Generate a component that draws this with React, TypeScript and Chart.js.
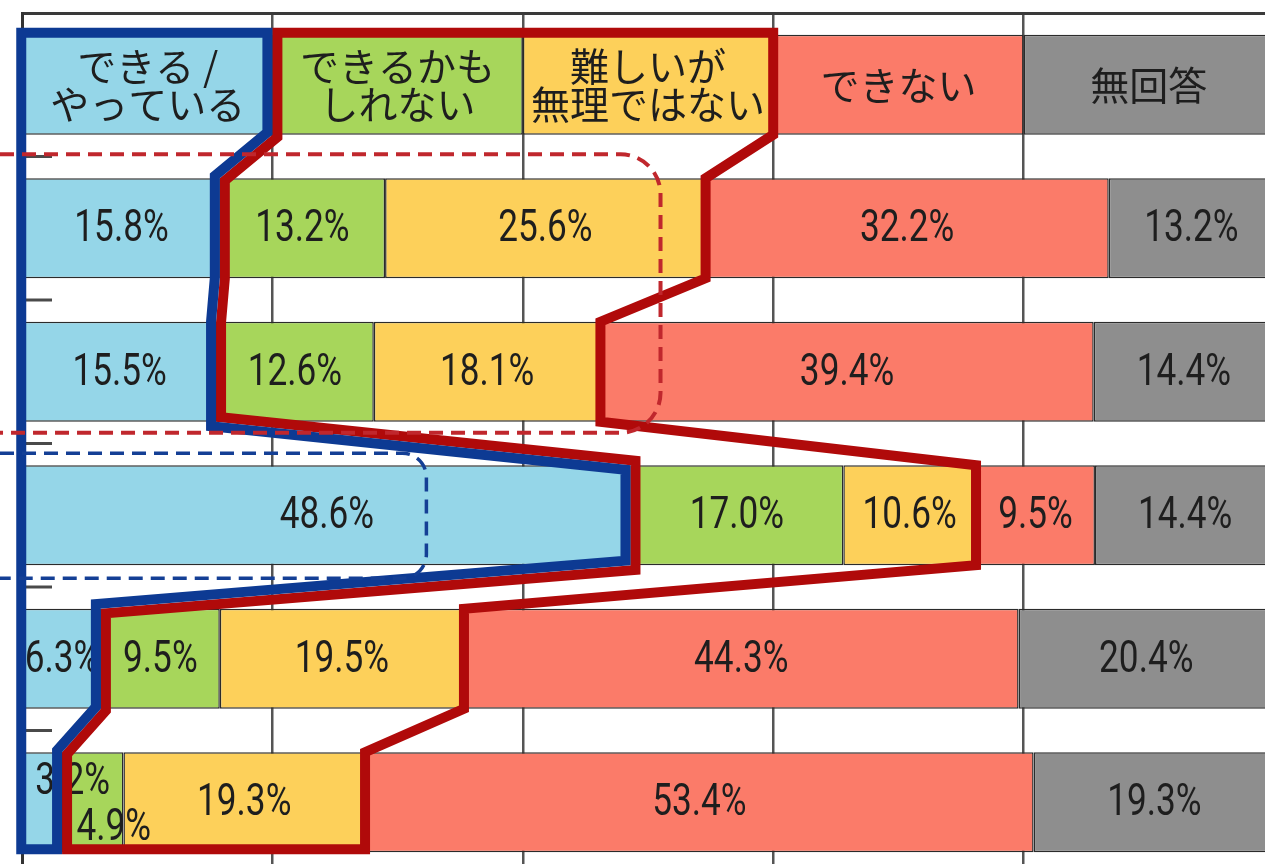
import React, { useEffect, useRef } from 'react';
import { Chart, registerables } from 'chart.js';

Chart.register(...registerables);

// ---------------- data ----------------
const rowLabels = ['凡例', '1', '2', '3', '4', '5'];
const seriesNames = ['できる/やっている', 'できるかもしれない', '難しいが無理ではない', 'できない', '無回答'];
const headerLines = [
  ['できる /', 'やっている'],
  ['できるかも', 'しれない'],
  ['難しいが', '無理ではない'],
  ['できない'],
  ['無回答'],
];
const headerShare = [20, 20, 20, 20, 20];
const canDo = [15.8, 15.5, 48.6, 6.3, 3.2];
const mightCan = [13.2, 12.6, 17.0, 9.5, 4.9];
const hardNotImpossible = [25.6, 18.1, 10.6, 19.5, 19.3];
const cannot = [32.2, 39.4, 9.5, 44.3, 53.4];
const noAnswer = [13.2, 14.4, 14.4, 20.4, 19.3];
const seriesValues = [canDo, mightCan, hardNotImpossible, cannot, noAnswer];
const xTickValues = [0, 20, 40, 60, 80, 100];

// ---------------- style ----------------
const W = 1290;
const H = 890;
const fillColors = ['#95d6e8', '#a7d65b', '#fdd05a', '#fb7b69', '#8e8e8e'];
const labelNudge: Record<string, [number, number]> = { '0-5': [30, -21], '1-5': [21, 25] };
const redBracket = { rows: [1, 2], xValue: 51, padTop: 24, padBot: 11, radius: 40, color: '#c0272d' };
const blueBracket = { rows: [3, 3], xValue: 32.3, padTop: 12, padBot: 13, radius: 24, color: '#143f95' };

type Pt = [number, number];

function insetPolygon(pts: Pt[], offs: number[]): Pt[] {
  const n = pts.length;
  let a = 0;
  for (let k = 0; k < n; k++) {
    const p = pts[k];
    const q = pts[(k + 1) % n];
    a += p[0] * q[1] - q[0] * p[1];
  }
  const sg = a > 0 ? 1 : -1;
  const lines = pts.map((p, k) => {
    const q = pts[(k + 1) % n];
    const dx = q[0] - p[0];
    const dy = q[1] - p[1];
    const len = Math.hypot(dx, dy) || 1;
    const ux = dx / len;
    const uy = dy / len;
    const nx = -uy * sg;
    const ny = ux * sg;
    return { ax: p[0] + nx * offs[k], ay: p[1] + ny * offs[k], ux, uy };
  });
  const out: Pt[] = [];
  for (let k = 0; k < n; k++) {
    const L1 = lines[(k - 1 + n) % n];
    const L2 = lines[k];
    const cr = L1.ux * L2.uy - L1.uy * L2.ux;
    if (Math.abs(cr) < 1e-6) {
      out.push([L2.ax, L2.ay]);
    } else {
      const t = ((L2.ax - L1.ax) * L2.uy - (L2.ay - L1.ay) * L2.ux) / cr;
      out.push([L1.ax + L1.ux * t, L1.ay + L1.uy * t]);
    }
  }
  return out;
}

function strokePoly(ctx: CanvasRenderingContext2D, pts: Pt[], color: string, width: number) {
  ctx.save();
  ctx.strokeStyle = color;
  ctx.lineWidth = width;
  ctx.lineJoin = 'miter';
  ctx.miterLimit = 10;
  ctx.beginPath();
  pts.forEach((p, i) => (i === 0 ? ctx.moveTo(p[0], p[1]) : ctx.lineTo(p[0], p[1])));
  ctx.closePath();
  ctx.stroke();
  ctx.restore();
}

function bracket(ctx: CanvasRenderingContext2D, top: number, bot: number, xr: number, r: number, color: string, width: number) {
  ctx.save();
  ctx.strokeStyle = color;
  ctx.lineWidth = width;
  ctx.setLineDash([14, 8]);
  ctx.beginPath();
  ctx.moveTo(0, top);
  ctx.lineTo(xr - r, top);
  ctx.arcTo(xr, top, xr, top + r, r);
  ctx.lineTo(xr, bot - r);
  ctx.arcTo(xr, bot, xr - r, bot, r);
  ctx.lineTo(0, bot);
  ctx.stroke();
  ctx.restore();
}

const overlayPlugin = {
  id: 'overlay',
  afterDatasetsDraw(chart: any) {
    const ctx: CanvasRenderingContext2D = chart.ctx;
    const area = chart.chartArea;
    const xs = chart.scales.x;
    const ys = chart.scales.y;
    const metas = chart.data.datasets.map((_: any, i: number) => chart.getDatasetMeta(i));
    const n = chart.data.labels.length;
    const rows: any[] = [];
    for (let i = 0; i < n; i++) {
      const p0 = metas[0].data[i].getProps(['y', 'height'], true);
      rows.push({
        cy: p0.y,
        top: p0.y - p0.height / 2,
        bot: p0.y + p0.height / 2,
        seg: metas.map((m: any) => {
          const p = m.data[i].getProps(['x', 'base'], true);
          return { l: Math.min(p.x, p.base), r: Math.max(p.x, p.base) };
        }),
      });
    }

    // short inner ticks at category boundaries
    ctx.save();
    ctx.strokeStyle = '#4a4a4a';
    ctx.lineWidth = 3;
    for (let i = 1; i < n; i++) {
      const yb = (ys.getPixelForValue(i - 1) + ys.getPixelForValue(i)) / 2;
      ctx.beginPath();
      ctx.moveTo(area.left, yb);
      ctx.lineTo(area.left + 30, yb);
      ctx.stroke();
    }
    ctx.restore();

    // labels
    ctx.save();
    ctx.fillStyle = '#1e1e1e';
    ctx.textAlign = 'center';
    ctx.textBaseline = 'middle';
    for (let i = 0; i < n; i++) {
      for (let d = 0; d < metas.length; d++) {
        const s = rows[i].seg[d];
        const cx = (s.l + s.r) / 2;
        const cy = rows[i].cy;
        if (i === 0) {
          ctx.font = '39px "Noto Sans CJK JP"';
          const lines = headerLines[d];
          const lh = 38;
          lines.forEach((t, j) => ctx.fillText(t, cx, cy + (j - (lines.length - 1) / 2) * lh));
        } else {
          const v = chart.data.datasets[d].data[i] as number;
          const text = v.toFixed(1) + '%';
          const nudge = labelNudge[`${d}-${i}`] || [0, 0];
          ctx.save();
          ctx.translate(cx + nudge[0], cy + nudge[1]);
          ctx.scale(0.8, 1);
          ctx.font = '400 44px Roboto';
          ctx.fillText(text, 0, 2);
          ctx.restore();
        }
      }
    }
    ctx.restore();

    // blue outline (first series)
    const bluePts: Pt[] = [];
    const blueOff: number[] = [];
    const L = rows[0].seg[0].l;
    bluePts.push([L, rows[0].top]);
    blueOff.push(-2);
    for (let i = 0; i < n; i++) {
      bluePts.push([rows[i].seg[0].r, rows[i].top]);
      blueOff.push(5);
      bluePts.push([rows[i].seg[0].r, rows[i].bot]);
      blueOff.push(i === n - 1 ? 3 : 5);
    }
    bluePts.push([L, rows[n - 1].bot]);
    blueOff.push(-2);

    // red outline (second + third series)
    const redPts: Pt[] = [];
    const redOff: number[] = [];
    redPts.push([rows[0].seg[1].l, rows[0].top]);
    redOff.push(-2);
    for (let i = 0; i < n; i++) {
      redPts.push([rows[i].seg[2].r, rows[i].top]);
      redOff.push(0);
      redPts.push([rows[i].seg[2].r, rows[i].bot]);
      redOff.push(i === n - 1 ? 3 : 0);
    }
    for (let i = n - 1; i >= 0; i--) {
      redPts.push([rows[i].seg[1].l, rows[i].bot]);
      redOff.push(5);
      if (i > 0) {
        redPts.push([rows[i].seg[1].l, rows[i].top]);
        redOff.push(5);
      }
    }

    strokePoly(ctx, insetPolygon(redPts, redOff), '#b00a0a', 10);
    strokePoly(ctx, insetPolygon(bluePts, blueOff), '#0d3a93', 10);

    // dashed brackets
    const rb = redBracket;
    bracket(ctx, rows[rb.rows[0]].top - rb.padTop, rows[rb.rows[1]].bot + rb.padBot, xs.getPixelForValue(rb.xValue), rb.radius, rb.color, 4);
    const bb = blueBracket;
    bracket(ctx, rows[bb.rows[0]].top - bb.padTop, rows[bb.rows[1]].bot + bb.padBot, xs.getPixelForValue(bb.xValue), bb.radius, bb.color, 3.5);
  },
};

export default function App() {
  const ref = useRef<HTMLCanvasElement | null>(null);
  useEffect(() => {
    if (!ref.current) return;
    const chart = new Chart(ref.current, {
      type: 'bar',
      data: {
        labels: rowLabels,
        datasets: seriesNames.map((name, k) => ({
          label: name,
          data: [headerShare[k], ...seriesValues[k]],
          backgroundColor: fillColors[k],
          borderColor: '#2b2b2b',
          borderWidth: 1.5,
          borderSkipped: false,
          barPercentage: 0.697,
          categoryPercentage: 1,
        })),
      },
      options: {
        responsive: false,
        animation: false,
        devicePixelRatio: 1,
        indexAxis: 'y',
        layout: { padding: { left: 22, top: 13, right: 16, bottom: 16 } },
        plugins: { legend: { display: false }, tooltip: { enabled: false } },
        scales: {
          x: {
            type: 'linear',
            position: 'top',
            stacked: true,
            min: 0,
            max: 100,
            afterBuildTicks: (s: any) => {
              s.ticks = xTickValues.map((v) => ({ value: v }));
            },
            ticks: { display: false },
            grid: { color: '#555', lineWidth: 2.5, drawTicks: false },
            border: { display: true, color: '#3a3a3a', width: 3 },
          },
          y: {
            type: 'category',
            stacked: true,
            ticks: { display: false },
            grid: { display: false, drawTicks: false },
            border: { display: true, color: '#333', width: 3 },
          },
        },
      } as any,
      plugins: [overlayPlugin],
    });
    return () => chart.destroy();
  }, []);
  return (
    <div style={{ position: 'fixed', left: 0, top: 0, width: 1265, height: 864, overflow: 'hidden', background: '#fff' }}>
      <canvas ref={ref} width={W} height={H} style={{ display: 'block', width: W, height: H }} />
    </div>
  );
}
